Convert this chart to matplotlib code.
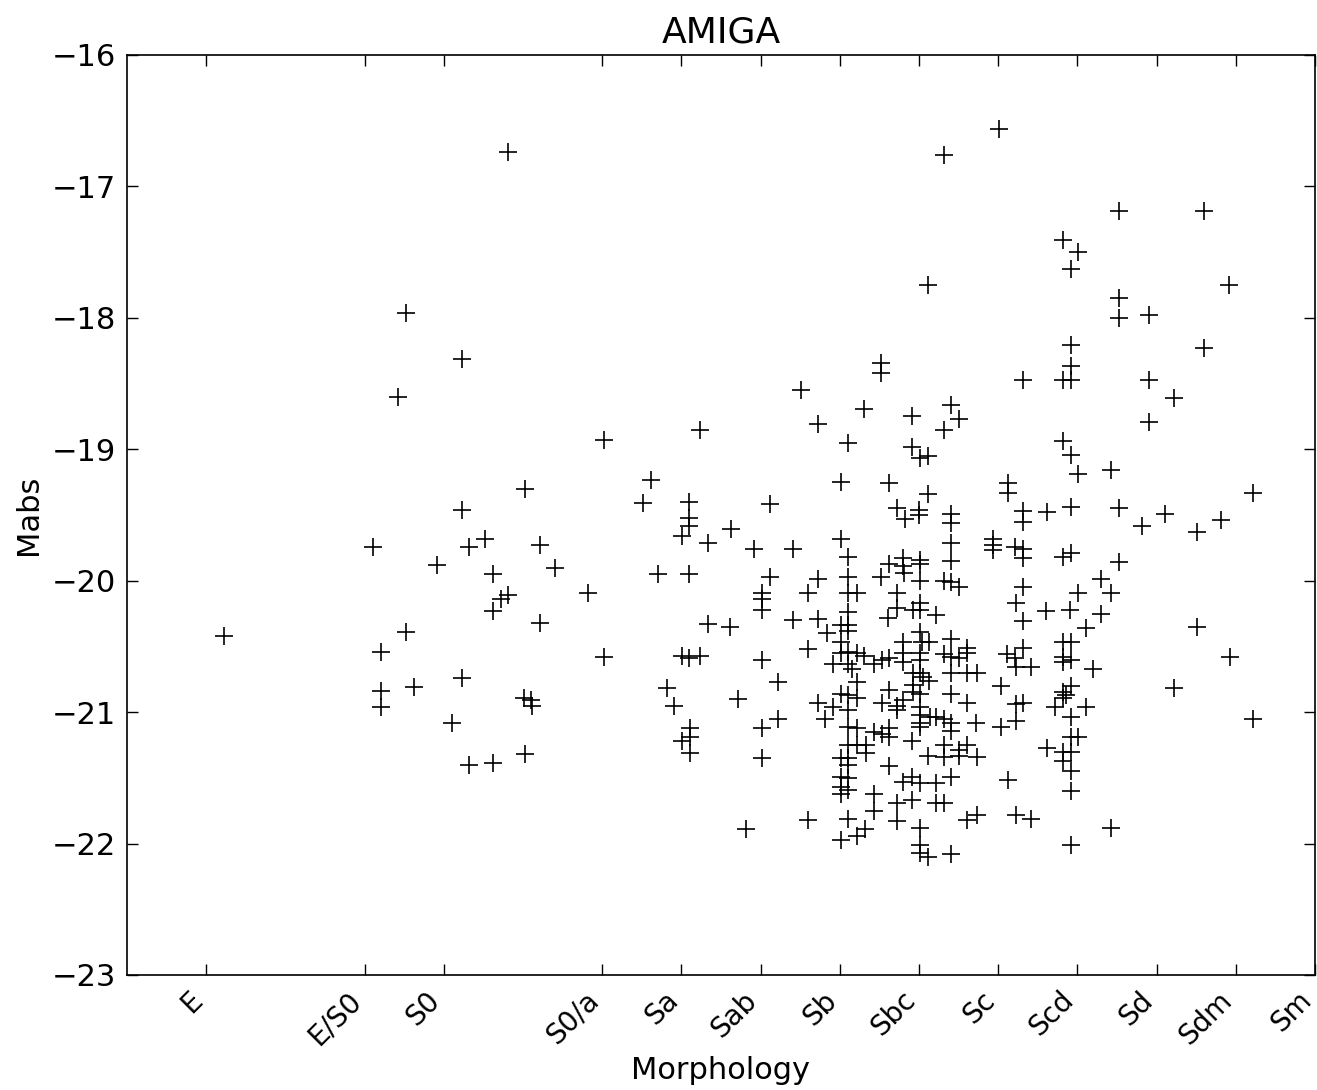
import numpy as np
import matplotlib
matplotlib.use("Agg")
import matplotlib.pyplot as plt
from matplotlib.transforms import ScaledTranslation

# morphological type codes on the x axis
type_labels = ['E', 'E/S0', 'S0', 'S0/a', 'Sa', 'Sab', 'Sb', 'Sbc', 'Sc', 'Scd', 'Sd', 'Sdm', 'Sm']
type_codes = [-5, -3, -2, 0, 1, 2, 3, 4, 5, 6, 7, 8, 9]

# early types (E .. S0/a)
early_t = [-4.77, -2.89, -2.79, -2.79, -2.79, -2.58, -2.48, -2.48, -2.38, -2.09, -1.90, -1.77, -1.77,
           -1.77, -1.68, -1.68, -1.48, -1.38, -1.28, -1.19, -1.38, -1.38, -1.19, -0.98, -0.79, -0.79,
           -0.59, -0.98, -0.99, -0.90, -0.89, -0.18, 0.02, 0.02]
early_m = [-20.42, -19.74, -20.54, -20.84, -20.96, -18.60, -17.96, -20.39, -20.81, -19.88, -21.08, -18.31, -19.46,
           -20.74, -19.74, -21.40, -19.68, -19.95, -20.14, -20.11, -20.23, -21.39, -16.74, -19.30, -19.73, -20.32,
           -19.90, -21.32, -20.89, -20.91, -20.95, -20.09, -18.93, -20.58]

# Sa / Sab
sa_t = [0.52, 0.62, 0.71, 1.10, 1.10, 1.10, 1.01, 1.33, 1.10, 1.23, 1.01, 1.10, 1.23, 0.82, 0.91, 1.11,
        1.11, 1.01, 1.11, 1.33, 1.62, 1.61, 1.92, 2.12, 2.12, 2.02, 2.02, 2.02, 2.41, 2.41, 2.02, 2.22,
        1.71, 2.02, 2.22, 2.02, 1.81]
sa_m = [-19.41, -19.23, -19.95, -19.40, -19.52, -19.58, -19.66, -19.71, -19.95, -18.85, -20.57, -20.59, -20.57,
        -20.82, -20.95, -21.12, -21.19, -21.22, -21.31, -20.33, -19.61, -20.35, -19.76, -19.42, -19.97, -20.09,
        -20.14, -20.22, -19.76, -20.30, -20.60, -20.77, -20.90, -21.12, -21.05, -21.35, -21.89]

# Sb
sb_t = [2.51, 2.73, 3.10, 3.30, 3.02, 3.02, 3.10, 2.73, 3.10, 2.60, 3.10, 3.22, 2.73, 3.10, 3.02, 3.10,
        3.10, 2.84, 2.60, 3.02, 3.02, 3.10, 3.22, 2.91, 3.10, 3.15, 3.30, 3.43, 3.22, 3.02, 3.10, 3.22,
        2.73, 2.91, 3.10, 2.81, 3.10, 3.22, 3.43, 3.10, 3.22, 3.33, 3.33, 3.02, 3.10, 3.10, 3.02, 3.10,
        3.02, 3.10, 3.02, 3.43, 3.43, 2.60, 3.10, 3.32, 3.22, 3.02]
sb_m = [-18.55, -18.81, -18.95, -18.69, -19.25, -19.68, -19.82, -19.99, -19.97, -20.09, -20.09, -20.09, -20.29,
        -20.24, -20.34, -20.34, -20.38, -20.40, -20.52, -20.47, -20.55, -20.54, -20.55, -20.63, -20.63, -20.67,
        -20.57, -20.63, -20.77, -20.86, -20.87, -20.89, -20.93, -20.96, -20.98, -21.05, -21.11, -21.12, -21.15,
        -21.25, -21.25, -21.25, -21.31, -21.35, -21.35, -21.40, -21.49, -21.50, -21.57, -21.59, -21.62, -21.62,
        -21.75, -21.82, -21.81, -21.89, -21.94, -21.97]

# Sbc
sbc_t = [3.52, 3.52, 3.62, 3.72, 3.82, 3.62, 3.52, 3.80, 3.80, 3.81, 3.72, 3.61, 3.72, 3.53, 3.62, 3.80,
         3.80, 3.80, 3.62, 3.53, 3.72, 3.72, 3.80, 3.53, 3.62, 3.62, 3.62, 3.80, 3.72, 3.72,
         4.41, 4.51, 4.31, 3.91, 3.91, 4.01, 4.11, 4.11, 4.00, 4.00, 4.41, 4.41, 4.41, 4.41, 4.01, 4.01,
         4.01, 4.31, 4.41, 4.50, 3.92, 4.01, 4.01, 4.22, 4.31, 4.11,
         4.01, 4.04, 4.12, 4.41, 4.01, 4.31, 4.41, 4.51, 4.61, 4.61, 4.01, 3.92, 4.01, 4.05, 4.12, 4.41,
         4.61, 4.73, 3.92, 3.92, 4.01, 4.41, 4.61, 4.01, 4.01, 4.14, 4.22, 4.31, 4.41, 4.01, 4.72, 4.01,
         4.41, 3.91, 4.61, 4.31, 4.51, 4.11, 4.31, 4.51, 4.73, 3.91, 4.01, 4.22, 4.41, 3.91, 4.22, 4.31,
         4.01, 4.61, 4.73, 4.01, 4.01, 4.11, 4.41]
sbc_m = [-18.34, -18.42, -19.26, -19.45, -19.53, -19.87, -19.97, -19.83, -19.89, -19.94, -20.09, -20.28, -20.21,
         -20.60, -20.59, -20.47, -20.55, -20.62, -20.83, -20.93, -20.95, -20.98, -20.91, -21.17, -21.12, -21.19,
         -21.41, -21.53, -21.69, -21.83,
         -18.66, -18.77, -18.85, -18.75, -18.98, -19.07, -19.05, -19.34, -19.46, -19.50, -19.49, -19.56, -19.71,
         -19.85, -19.84, -19.87, -20.00, -20.00, -20.01, -20.05, -20.22, -20.17, -20.22, -20.26, -16.76, -17.75,
         -20.39, -20.47, -20.47, -20.44, -20.55, -20.56, -20.58, -20.59, -20.51, -20.55, -20.60, -20.70, -20.70,
         -20.73, -20.76, -20.70, -20.70, -20.70, -20.79, -20.85, -20.86, -20.86, -20.93, -20.96, -21.02, -21.04,
         -21.04, -21.05, -21.08, -21.08, -21.08, -21.11, -21.14, -21.22, -21.25, -21.25, -21.29, -21.33, -21.34,
         -21.33, -21.34, -21.49, -21.54, -21.54, -21.49, -21.67, -21.69, -21.69, -21.88, -21.82, -21.78, -22.01,
         -22.07, -22.10, -22.08]

# Sc
sc_t = [5.01, 4.93, 4.93, 4.93, 5.12, 5.12, 5.31, 5.31, 5.31, 5.61, 5.21, 5.31, 5.31, 5.31, 5.22, 5.60,
        5.31, 5.31, 5.11, 5.21, 5.22, 5.42, 5.03, 5.22, 5.31, 5.22, 5.03, 5.61, 5.12, 5.22, 5.41]
sc_m = [-16.56, -19.68, -19.73, -19.77, -19.26, -19.33, -18.47, -19.47, -19.55, -19.48, -19.74, -19.76, -19.83,
        -20.05, -20.17, -20.23, -20.31, -20.51, -20.56, -20.59, -20.66, -20.66, -20.80, -20.94, -20.93, -21.07,
        -21.11, -21.27, -21.52, -21.78, -21.81]

# Scd
scd_t = [5.82, 6.01, 5.92, 5.92, 5.92, 5.82, 5.92, 5.82, 5.92, 6.01, 5.92, 5.82, 5.92, 6.01, 5.91, 6.11,
         5.82, 5.92, 5.82, 5.92, 5.82, 6.20, 5.92, 5.82, 5.86, 5.82, 5.72, 6.11, 5.92, 5.92, 6.01, 5.82,
         5.92, 5.82, 5.92, 5.92, 5.92]
scd_m = [-17.41, -17.50, -17.63, -18.21, -18.37, -18.47, -18.47, -18.94, -19.04, -19.19, -19.44, -19.82, -19.79,
         -20.09, -20.22, -20.36, -20.47, -20.47, -20.58, -20.60, -20.62, -20.67, -20.80, -20.85, -20.87, -20.89,
         -20.96, -20.96, -21.04, -21.19, -21.19, -21.30, -21.30, -21.37, -21.45, -21.60, -22.01]

# late types (Sd .. Sm)
late_t = [6.52, 7.60, 7.91, 6.52, 6.52, 6.91, 7.60, 6.91, 7.22, 6.91, 6.43, 8.22, 6.52, 6.81, 7.11, 7.51,
          7.81, 6.52, 6.30, 6.43, 6.30, 7.51, 7.93, 7.22, 8.22, 6.43]
late_m = [-17.19, -17.19, -17.75, -17.85, -18.00, -17.98, -18.23, -18.47, -18.61, -18.79, -19.16, -19.33, -19.45,
          -19.58, -19.49, -19.63, -19.54, -19.86, -19.99, -20.09, -20.25, -20.35, -20.58, -20.82, -21.05, -21.88]

ttype = np.concatenate([early_t, sa_t, sb_t, sbc_t, sc_t, scd_t, late_t])
mabs = np.concatenate([early_m, sa_m, sb_m, sbc_m, sc_m, scd_m, late_m])

plt.rcParams['font.family'] = 'DejaVu Sans'

fig = plt.figure(figsize=(13.17, 10.9), dpi=100)
ax = fig.add_axes([127 / 1317, 115 / 1090, 1188 / 1317, 920 / 1090])

ax.plot(ttype, mabs, '+', color='black', markersize=13, markeredgewidth=1.2)

ax.set_xlim(-6, 9)
ax.set_ylim(-23, -16)
ax.set_xticks(type_codes)
ax.set_xticklabels(type_labels, rotation=45, ha='right')
ax.set_yticks(np.arange(-23, -15, 1))

ax.tick_params(direction='in', top=True, right=True, length=8, width=1, labelsize=22, pad=8)
ax.tick_params(axis='x', labelsize=20)
# nudge rotated labels a little to the right, as in the original
shift = ScaledTranslation(2 / 100, 0, fig.dpi_scale_trans)
for lab in ax.get_xticklabels():
    lab.set_transform(lab.get_transform() + shift)
for s in ax.spines.values():
    s.set_linewidth(1.2)

ax.set_title('AMIGA', fontsize=26, pad=9)
ax.set_xlabel('Morphology', fontsize=22, labelpad=4)
ax.set_ylabel('Mabs', fontsize=22, labelpad=6)

fig.savefig('out.png', dpi=100)
